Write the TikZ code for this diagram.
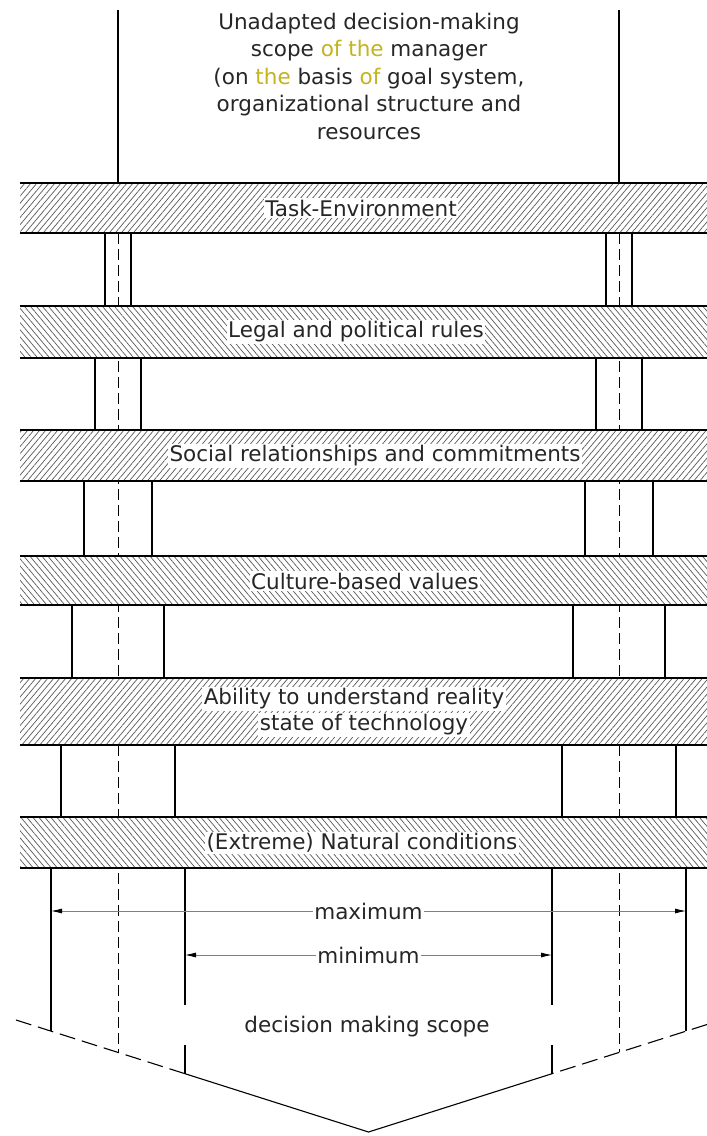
\documentclass[tikz,border=0pt]{standalone}
\usepackage{fontspec}
\setmainfont{DejaVu Sans}
\usetikzlibrary{patterns.meta,arrows.meta}
\definecolor{korostus}{RGB}{196,178,30}

\begin{document}
\begin{tikzpicture}[x=1pt,y=-1pt]
\tikzset{
  teksti/.style={fill=white, inner sep=1.5pt, text=black!85, font=\fontsize{21.5}{27.5}\selectfont},
  mitta/.style={draw=black!50, line width=0.8pt, {Latex[length=11pt,width=5pt,black]}-{Latex[length=11pt,width=5pt,black]}},
  katko/.style={draw, line width=0.8pt, dash pattern=on 11pt off 5pt},
}
\useasboundingbox (0,0) rectangle (707,1136);
\newcommand\kaista[3]{
\path[preaction={fill=white}, pattern={Lines[angle=#3,distance=4.6pt,line width=0.7pt]}, pattern color=black!65] (20,#1) rectangle (707,#2);
\path[draw,line width=1.6pt,-] (20,#1) -- (707,#1);
\path[draw,line width=1.6pt,-] (20,#2) -- (707,#2);
}
\newcommand\rako[3]{
\path[draw,line width=1.1pt,-] (118-#3,#1) -- (118-#3,#2);
\path[draw,line width=1.1pt,-] (118+#3,#1) -- (118+#3,#2);
\path[draw,line width=1.1pt,-] (619-#3,#1) -- (619-#3,#2);
\path[draw,line width=1.1pt,-] (619+#3,#1) -- (619+#3,#2);
}
% scope lines above the bands
\path[draw,line width=1.1pt,-] (118,10) -- (118,183);
\path[draw,line width=1.1pt,-] (619,10) -- (619,183);
\node[teksti, fill=none, align=center] (ylos) at (369,76) {Unadapted decision-making\\
scope {\color{korostus}of the} manager\\
(on {\color{korostus}the} basis {\color{korostus}of} goal system,\\
organizational structure and\\
resources};
% dashed centre lines
\path[katko] (118,233) -- (118,1052.4);
\path[katko] (619,233) -- (619,1052.4);
% gaps between the bands
\rako{233}{306}{13}
\rako{358}{430}{23}
\rako{481}{556}{34}
\rako{605}{678}{46}
\rako{745}{817}{57}
% bands
\kaista{183}{233}{50}
\kaista{306}{358}{130}
\kaista{430}{481}{50}
\kaista{556}{605}{130}
\kaista{678}{745}{50}
\kaista{817}{868}{130}
\node[teksti] (k1) at (361,208) {Task-Environment};
\node[teksti] (k2) at (356,332) {Legal and political rules};
\node[teksti] (k3) at (375,456) {Social relationships and commitments};
\node[teksti] (k4) at (365,581) {Culture-based values};
\node[teksti] (k5a) at (354,699) {Ability to understand reality};
\node[teksti] (k5b) at (364,725) {state of technology};
\node[teksti] (k6) at (362,843) {(Extreme) Natural conditions};
% decision making scope
\coordinate (vk) at (16,1020);
\coordinate (vs) at (185,1073.7);
\coordinate (kaki) at (368.5,1132);
\coordinate (os) at (552,1073.7);
\coordinate (ok) at (707,1024.5);
\path[draw,line width=1.1pt,-] (51,868) -- (51,1031.1);
\path[draw,line width=1.1pt,-] (686,868) -- (686,1031.1);
\path[draw,line width=1.1pt,-] (185,868) -- (185,1005);
\path[draw,line width=1.1pt,-] (185,1045) -- (vs);
\path[draw,line width=1.1pt,-] (552,868) -- (552,1005);
\path[draw,line width=1.1pt,-] (552,1045) -- (os);
\path[draw,line width=1.1pt,dash pattern=on 16pt off 7pt] (vk) -- (vs);
\path[draw,line width=1.1pt,-] (vs) -- (kaki) -- (os);
\path[draw,line width=1.1pt,dash pattern=on 16pt off 7pt] (ok) -- (os);
\coordinate (maxv) at (51,911);
\coordinate (maxo) at (686,911);
\coordinate (minv) at (185,955);
\coordinate (mino) at (552,955);
\path[mitta] (maxv) -- (maxo) node[teksti, midway] (maks) {maximum};
\path[mitta] (minv) -- (mino) node[teksti, midway] (mini) {minimum};
\node[teksti] (ala) at (367,1027) {decision making scope};
\end{tikzpicture}
\end{document}
